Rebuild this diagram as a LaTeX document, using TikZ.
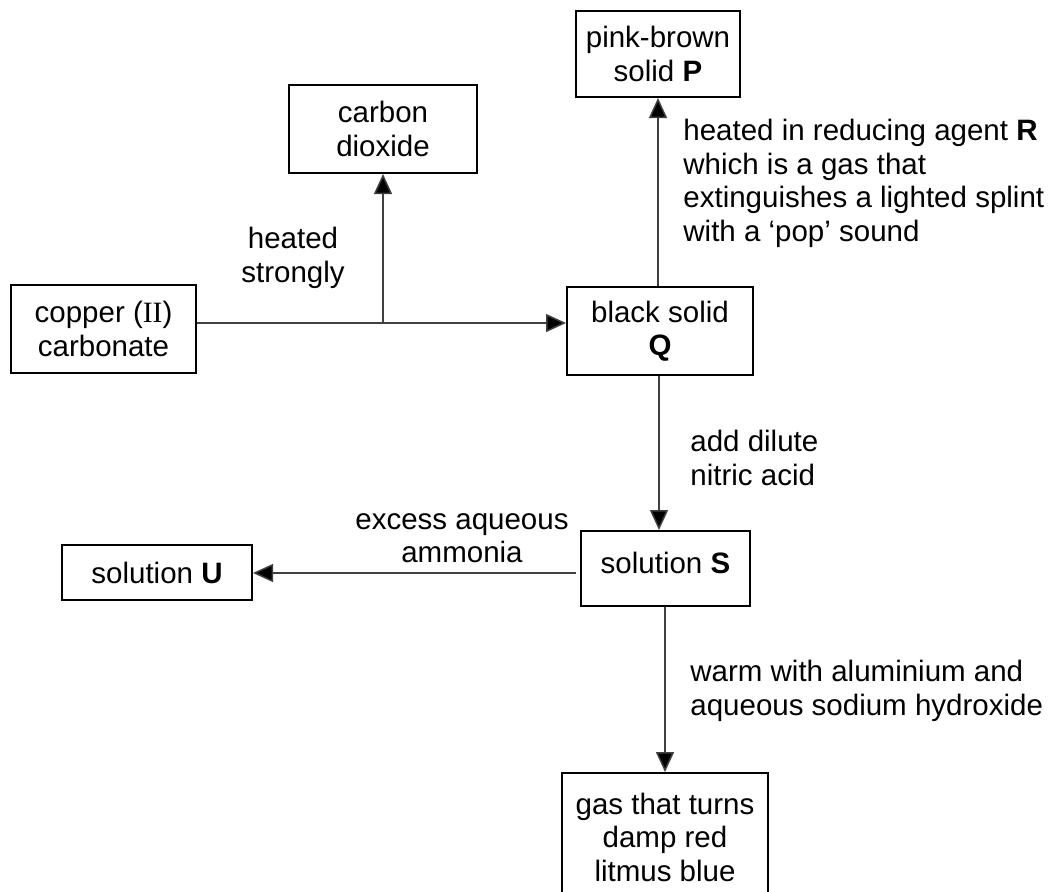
\documentclass[tikz,border=0pt]{standalone}
\usepackage{fontspec}
\setmainfont{Liberation Sans}
\newfontfamily\romanfont{Liberation Serif}
\usetikzlibrary{arrows.meta, positioning}

\begin{document}
\begin{tikzpicture}[
    x=0.5pt, y=-0.5pt,
    font=\fontsize{14.75}{16.75}\selectfont,
    box/.style={draw, line width=1pt, rectangle, align=center, inner sep=0pt},
    note/.style={align=left, inner sep=0pt, anchor=north west},
    flow/.style={line width=0.75pt, draw=black!75, -{Triangle[length=10pt, width=9pt, fill=black]}}
  ]
  \clip (0,0) rectangle (1050,891);

  % substances
  \node[box, minimum width=92.5pt, minimum height=44pt] (carbonate) at (103.5,329) {copper ({\romanfont II})\\carbonate};
  \node[box, minimum width=94pt, minimum height=44pt] (dioxide) at (383,129) {carbon\\dioxide};
  \node[box, minimum width=93pt, minimum height=44pt] (solidQ) at (660,331) {black solid\\\textbf{Q}};
  \node[box, minimum width=82pt, minimum height=43pt] (solidP) at (658,54) {pink-brown\\solid \textbf{P}};
  \node[box, minimum width=84.5pt, minimum height=37.5pt, text depth=6pt] (solS) at (665.5,568.5) {solution \textbf{S}};
  \node[box, minimum width=95pt, minimum height=27.5pt] (solU) at (157,572.5) {solution \textbf{U}};
  \node[box, minimum width=103pt, minimum height=64pt] (gas) at (665,837) {gas that turns\\damp red\\litmus blue};

  % reactions
  \coordinate (split) at (383,323);
  \draw[flow] (carbonate.east |- split) -- (solidQ.west |- split);
  \draw[flow] (split) -- (dioxide.south);
  \draw[flow] (solidQ.north -| solidP.south) -- (solidP.south);
  \draw[flow] (solidQ.south -| 659,0) -- (659,0 |- solS.north);
  \coordinate (ammonia) at (576,573);
  \draw[flow] (ammonia) -- (solU.east |- ammonia);
  \draw[flow] (solS.south -| gas.north) -- (gas.north);

  % conditions
  \node[align=center, inner sep=0pt] (heat) at (293,258) {heated\\strongly};
  \node[note] (reduce) at (683,119) {heated in reducing agent \textbf{R}\\which is a gas that\\extinguishes a lighted splint\\with a `pop' sound};
  \node[note] (acid) at (690,430) {add dilute\\nitric acid};
  \node[align=center, inner sep=0pt, anchor=north] (excess) at (462,513) {excess aqueous\\ammonia};
  \node[note] (warm) at (690,660) {warm with aluminium and\\aqueous sodium hydroxide};
\end{tikzpicture}
\end{document}
